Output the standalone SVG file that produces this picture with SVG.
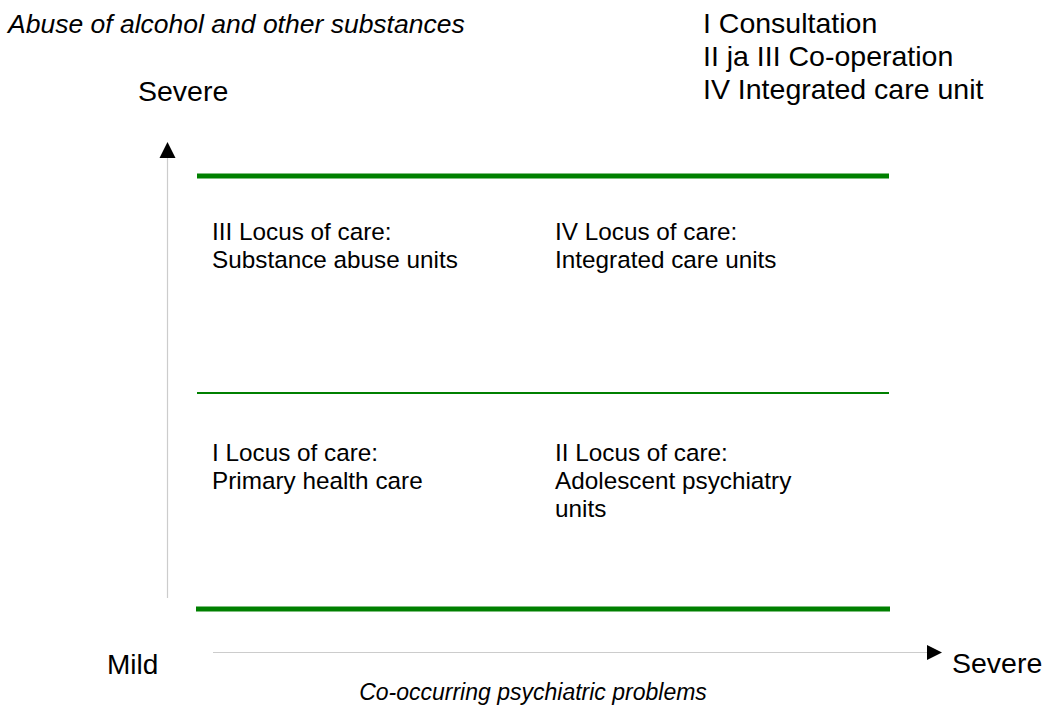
<svg xmlns="http://www.w3.org/2000/svg" width="1046" height="708" viewBox="0 0 1046 708">
<style>
text{font-family:"Liberation Sans",Arial,sans-serif;fill:#000}
.it{font-style:italic}
.q{font-size:24.3px}
.lg{font-size:28.5px}
.g{stroke:#008000;fill:none}
.axis{stroke:#cccccc;stroke-width:1.2;fill:none}
</style>
<rect width="1046" height="708" fill="#fff"/>
<g id="labels">
<text class="it" x="8" y="33" font-size="26.5">Abuse of alcohol and other substances</text>
<text x="138" y="101" font-size="28.5">Severe</text>
<text x="107" y="674" font-size="28">Mild</text>
<text x="952" y="673" font-size="28.5">Severe</text>
<text class="it" x="533" y="700" text-anchor="middle" font-size="23">Co-occurring psychiatric problems</text>
</g>
<g id="legend">
<text class="lg" x="703" y="33">I Consultation</text>
<text class="lg" x="703" y="66">II ja III Co-operation</text>
<text class="lg" x="703" y="99">IV Integrated care unit</text>
</g>
<g id="connectors">
<line class="axis" x1="167.5" y1="158" x2="167.5" y2="598"/>
<polygon points="167.5,142 159.5,158 175.5,158" fill="#000"/>
<line class="axis" x1="213" y1="652.5" x2="927" y2="652.5"/>
<polygon points="942,652.5 927,645 927,660" fill="#000"/>
<line class="g" x1="197" y1="176" x2="889" y2="176" stroke-width="5"/>
<line class="g" x1="197" y1="393" x2="889" y2="393" stroke-width="2.2"/>
<line class="g" x1="196" y1="609" x2="890" y2="609" stroke-width="5"/>
</g>
<g id="q3">
<text class="q" x="212" y="240">III Locus of care:</text>
<text class="q" x="212" y="268">Substance abuse units</text>
</g>
<g id="q4">
<text class="q" x="555" y="240">IV Locus of care:</text>
<text class="q" x="555" y="268">Integrated care units</text>
</g>
<g id="q1">
<text class="q" x="212" y="461">I Locus of care:</text>
<text class="q" x="212" y="489">Primary health care</text>
</g>
<g id="q2">
<text class="q" x="555" y="461">II Locus of care:</text>
<text class="q" x="555" y="489">Adolescent psychiatry</text>
<text class="q" x="555" y="517">units</text>
</g>
</svg>
